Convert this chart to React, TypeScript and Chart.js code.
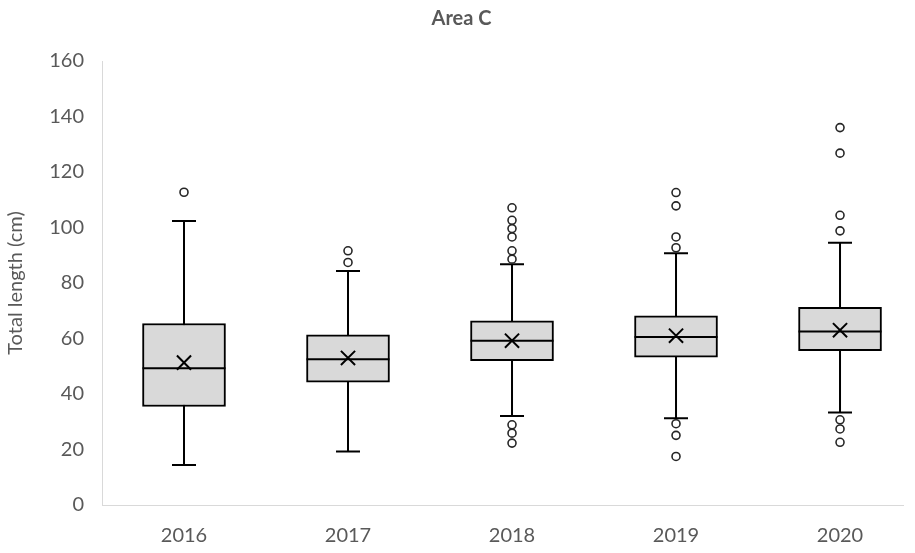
import React, { useEffect, useRef } from "react";
import { Chart, registerables } from "chart.js";

Chart.register(...registerables);

const years = ["2016", "2017", "2018", "2019", "2020"];
const whiskerMin = [14.4, 19.3, 32.1, 31.3, 33.3];
const q1 = [35.5, 44.3, 52.0, 53.3, 55.6];
const median = [49.3, 52.5, 59.2, 60.5, 62.5];
const mean = [51.3, 53.0, 59.2, 61.0, 63.0];
const q3 = [65.4, 61.3, 66.4, 68.2, 71.2];
const whiskerMax = [102.3, 84.3, 86.8, 90.7, 94.5];

const outliers2016 = [112.7];
const outliers2017 = [91.6, 87.4];
const outliers2018 = [107.1, 102.6, 99.6, 96.6, 91.6, 88.6, 28.9, 25.9, 22.3];
const outliers2019 = [112.6, 107.8, 96.6, 92.7, 29.3, 25.1, 17.5];
const outliers2020 = [136.0, 126.8, 104.4, 98.8, 30.7, 27.4, 22.6];
const outliers = [outliers2016, outliers2017, outliers2018, outliers2019, outliers2020];

const FONT = "Lato, 'Open Sans', sans-serif";
const GREY = "#595959";

const boxExtras = {
  id: "boxExtras",
  beforeDatasetsDraw(chart: any) {
    const { ctx, scales } = chart;
    const xs = scales.x;
    const ys = scales.y;
    ctx.save();
    ctx.strokeStyle = "#000";
    ctx.lineWidth = 2;
    years.forEach((_, i) => {
      const x = xs.getPixelForValue(i);
      const yMin = ys.getPixelForValue(whiskerMin[i]);
      const yMax = ys.getPixelForValue(whiskerMax[i]);
      ctx.beginPath();
      ctx.moveTo(x, yMin);
      ctx.lineTo(x, yMax);
      ctx.moveTo(x - 12, yMin);
      ctx.lineTo(x + 12, yMin);
      ctx.moveTo(x - 12, yMax);
      ctx.lineTo(x + 12, yMax);
      ctx.stroke();
    });
    ctx.restore();
  },
  afterDatasetDraw(chart: any, args: any) {
    if (args.index !== 0) return;
    const { ctx, scales } = chart;
    const xs = scales.x;
    const ys = scales.y;
    ctx.save();
    ctx.strokeStyle = "#000";
    ctx.lineWidth = 2;
    years.forEach((_, i) => {
      const x = xs.getPixelForValue(i);
      const y = ys.getPixelForValue(median[i]);
      ctx.beginPath();
      ctx.moveTo(x - 41.5, y);
      ctx.lineTo(x + 41.5, y);
      ctx.stroke();
    });
    ctx.restore();
  },
};

export default function App() {
  const ref = useRef<HTMLCanvasElement | null>(null);

  useEffect(() => {
    if (!ref.current) return;
    const outlierPoints: { x: number; y: number }[] = [];
    outliers.forEach((arr, i) => arr.forEach((v) => outlierPoints.push({ x: i, y: v })));

    const chart = new Chart(ref.current, {
      type: "bar",
      data: {
        datasets: [
          {
            type: "bar",
            data: years.map((_, i) => ({ x: i, y: [q1[i], q3[i]] })) as any,
            backgroundColor: "#d9d9d9",
            borderColor: "#000",
            borderWidth: 2,
            borderSkipped: false,
            barThickness: 83,
            order: 3,
          } as any,
          {
            type: "scatter",
            data: years.map((_, i) => ({ x: i, y: mean[i] })),
            pointStyle: "crossRot",
            pointRadius: 10,
            borderColor: "#000",
            borderWidth: 2,
            order: 2,
          } as any,
          {
            type: "scatter",
            data: outlierPoints,
            pointStyle: "circle",
            pointRadius: 4,
            backgroundColor: "#ffffff",
            borderColor: "#262626",
            borderWidth: 1.6,
            order: 1,
          } as any,
        ],
      },
      options: {
        responsive: false,
        animation: false,
        layout: { padding: { left: 0, right: -8, top: 0, bottom: 0 } },
        plugins: {
          legend: { display: false },
          tooltip: { enabled: false },
          title: {
            display: true,
            text: "Area C",
            color: GREY,
            font: { family: FONT, size: 20, weight: "bold" },
            padding: { top: 7, bottom: 30 },
          },
        },
        scales: {
          x: {
            type: "linear",
            offset: false,
            bounds: "data",
            min: -0.5,
            max: 4.384,
            grid: { color: "transparent", drawTicks: false, offset: false },
            border: { display: true, color: "#d9d9d9", width: 1 },
            ticks: {
              color: GREY,
              font: { family: FONT, size: 20 },
              padding: 19,
              maxRotation: 0,
              callback: (value: any) => years[Math.round(Number(value))] ?? "",
            },
            afterBuildTicks: (scale: any) => {
              scale.ticks = years.map((_, i) => ({ value: i }));
            },
            afterFit: (scale: any) => {
              scale.height = 48;
              scale.paddingLeft = 0;
              scale.paddingRight = 0;
            },
          },
          y: {
            min: 0,
            max: 160,
            grid: { color: "transparent", drawTicks: false },
            border: { display: true, color: "#d9d9d9", width: 1 },
            ticks: {
              stepSize: 20,
              color: GREY,
              font: { family: FONT, size: 20 },
              padding: 18,
            },
            title: {
              display: true,
              text: "Total length (cm)",
              color: GREY,
              font: { family: FONT, size: 20 },
              padding: { top: 4, bottom: 0 },
            },
            afterFit: (scale: any) => {
              scale.width = 102;
            },
          },
        },
      } as any,
      plugins: [boxExtras],
    });
    return () => chart.destroy();
  }, []);

  return (
    <div style={{ position: "fixed", left: 0, top: 0, width: 915, height: 553, background: "#fff" }}>
      <canvas ref={ref} width={915} height={553} />
    </div>
  );
}
